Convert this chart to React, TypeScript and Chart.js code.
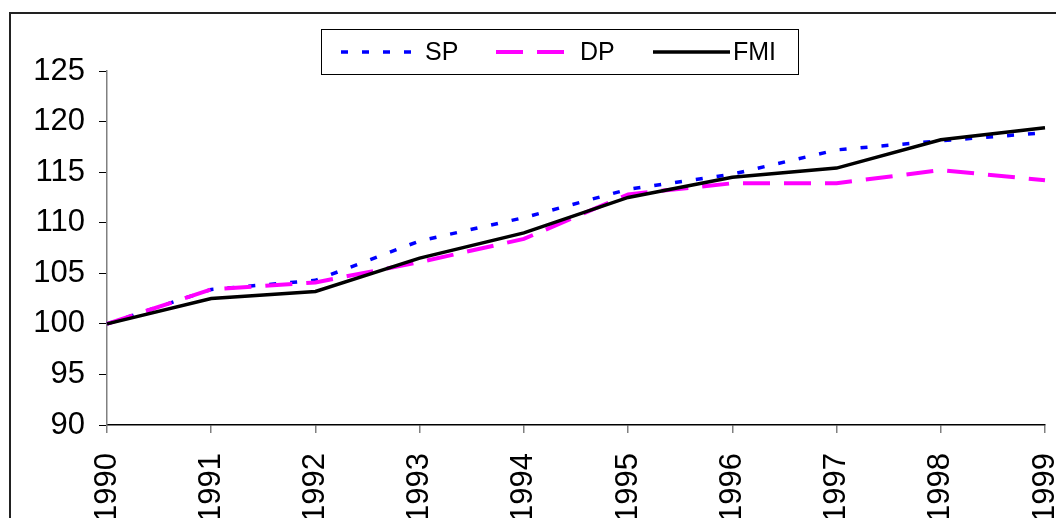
import { useEffect, useRef } from "react";
import { Chart, registerables } from "chart.js";

Chart.register(...registerables);

const years = ["1990", "1991", "1992", "1993", "1994", "1995", "1996", "1997", "1998", "1999"];
const spValues = [100, 103.4, 104.3, 108.2, 110.5, 113.3, 114.8, 117.2, 118.1, 118.9];
const dpValues = [100, 103.4, 104.1, 106.1, 108.4, 112.8, 113.9, 113.9, 115.2, 114.2];
const fmiValues = [100, 102.5, 103.2, 106.5, 109.0, 112.5, 114.5, 115.4, 118.2, 119.4];
const seriesNames = ["SP", "DP", "FMI"];
const yMin = 90;
const yMax = 125;
const yStep = 5;

const FONT = "'Liberation Sans', Arial, sans-serif";

const seriesStyles = [
  { color: "#0000FF", dash: [7, 14], width: 3.5 },
  { color: "#FF00FF", dash: [27, 14], width: 4 },
  { color: "#000000", dash: [] as number[], width: 3.5 },
];

const framePlugin = {
  id: "frameAndLegend",
  beforeDraw(chart: any) {
    const ctx = chart.ctx;
    ctx.save();
    ctx.fillStyle = "#ffffff";
    ctx.fillRect(0, 0, chart.width, chart.height);
    ctx.strokeStyle = "#222222";
    ctx.lineWidth = 2;
    ctx.strokeRect(10, 13, chart.width + 20, chart.height + 20);
    ctx.restore();
  },
  afterDraw(chart: any) {
    const ctx = chart.ctx;
    ctx.save();
    ctx.fillStyle = "#ffffff";
    ctx.fillRect(321, 29, 478, 46);
    ctx.strokeStyle = "#000000";
    ctx.lineWidth = 1;
    ctx.strokeRect(321.5, 29.5, 477, 45);
    const items = [
      { x0: 341, x1: 416, tx: 425 },
      { x0: 496, x1: 564, tx: 580 },
      { x0: 653, x1: 730, tx: 733 },
    ];
    const ly = 52;
    items.forEach((it, i) => {
      const st = seriesStyles[i];
      ctx.beginPath();
      ctx.setLineDash(st.dash);
      ctx.lineCap = "butt";
      ctx.strokeStyle = st.color;
      ctx.lineWidth = st.width;
      ctx.moveTo(it.x0, ly);
      ctx.lineTo(it.x1, ly);
      ctx.stroke();
      ctx.setLineDash([]);
      ctx.fillStyle = "#000000";
      ctx.font = `25px ${FONT}`;
      ctx.textAlign = "left";
      ctx.textBaseline = "middle";
      ctx.fillText(seriesNames[i], it.tx, ly + 1);
    });
    ctx.restore();
  },
};

export default function App() {
  const canvasRef = useRef<HTMLCanvasElement | null>(null);

  useEffect(() => {
    if (!canvasRef.current) return;
    const values = [spValues, dpValues, fmiValues];
    const orders = [2, 1, 0];
    const chart = new Chart(canvasRef.current, {
      type: "line",
      data: {
        labels: years,
        datasets: seriesNames.map((name, i) => ({
          label: name,
          data: values[i],
          borderColor: seriesStyles[i].color,
          borderWidth: seriesStyles[i].width,
          borderDash: seriesStyles[i].dash,
          borderCapStyle: "butt" as const,
          pointRadius: 0,
          tension: 0,
          fill: false,
          order: orders[i],
        })),
      },
      options: {
        animation: false,
        responsive: false,
        devicePixelRatio: 1,
        layout: { padding: { top: 71, right: 11, left: 0, bottom: 0 } },
        plugins: {
          legend: { display: false },
          tooltip: { enabled: false },
        },
        scales: {
          x: {
            type: "category",
            offset: false,
            grid: { drawOnChartArea: false, drawTicks: true, tickLength: 8, color: "#808080", lineWidth: 1.5 },
            border: { color: "#000000", width: 1.5 },
            ticks: {
              minRotation: 90,
              maxRotation: 90,
              autoSkip: false,
              padding: 20,
              color: "#000000",
              font: { size: 31, family: FONT },
            },
            afterFit: (s: any) => {
              s.height = 93;
              s.paddingLeft = 0;
              s.paddingRight = 0;
            },
          },
          y: {
            min: yMin,
            max: yMax,
            grid: { drawOnChartArea: false, drawTicks: true, tickLength: 8, color: "#000000", lineWidth: 1 },
            border: { color: "#808080", width: 1.5 },
            ticks: {
              stepSize: yStep,
              padding: 14,
              color: "#000000",
              font: { size: 31, family: FONT },
            },
            afterFit: (s: any) => {
              s.width = 107;
              s.paddingTop = 0;
              s.paddingBottom = 0;
            },
          },
        },
      },
      plugins: [framePlugin],
    });
    return () => chart.destroy();
  }, []);

  return (
    <div style={{ position: "absolute", left: 0, top: 0, width: 1056, height: 518, overflow: "hidden" }}>
      <canvas ref={canvasRef} width={1056} height={518} style={{ display: "block" }} />
    </div>
  );
}
